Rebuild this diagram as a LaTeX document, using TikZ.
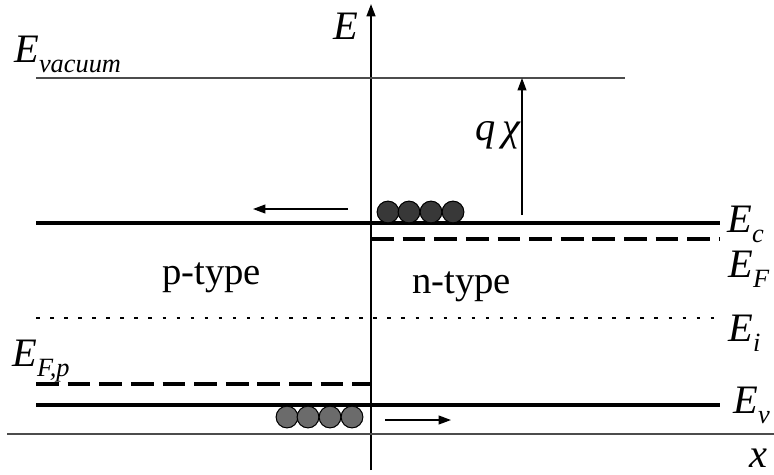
\documentclass[tikz,border=0pt]{standalone}
\usepackage{fontspec}
\setmainfont{Liberation Serif}
\usetikzlibrary{arrows.meta}

\newcommand{\lvsub}[1]{\raisebox{-6pt}{\fontsize{15}{17}\selectfont #1}}

\begin{document}
\begin{tikzpicture}[
  x=0.02cm, y=-0.02cm, >={Triangle[length=7pt,width=5pt]},
  lbl/.style={anchor=base west, inner sep=0pt, font=\fontsize{23}{26}\selectfont\itshape},
  band/.style={line width=1.8pt},
  fermi/.style={line width=1.8pt, dash pattern=on 13pt off 5pt},
  thinline/.style={line width=0.8pt, black!70},
  carrier/.style={circle, draw=black, line width=0.6pt, inner sep=0pt, minimum size=12.4pt},
  elec/.style={carrier, fill=black!78},
  hole/.style={carrier, fill=black!58},
]
\useasboundingbox (0,0) rectangle (774,474);

% axes
\coordinate (ybot) at (371,470);
\coordinate (ytop) at (371,4);
\coordinate (xl) at (7,434);
\coordinate (xr) at (774,434);
\draw[line width=1.1pt,->] (ybot) -- (ytop);
\draw[thinline] (xl) -- (xr);
\node[lbl] (elab) at (333,39) {E};
\node[lbl] (xlab) at (749,467) {x};

% vacuum level
\coordinate (vacl) at (36,78);
\coordinate (vacr) at (625,78);
\draw[thinline] (vacl) -- (vacr);
\node[lbl] (evac) at (14,62) {E\lvsub{vacuum}};

% electron affinity
\coordinate (chib) at (522,215);
\coordinate (chit) at (522,78);
\draw[line width=0.8pt,->] (chib) -- (chit);
\node[lbl] (chi) at (475,140) {q\,χ};

% conduction band
\coordinate (ecl) at (36,223);
\coordinate (ecr) at (720,223);
\draw[band] (ecl) -- (ecr);
\node[lbl] (ec) at (727,232) {E\lvsub{c}};

% fermi level n side
\coordinate (efl) at (371,239);
\coordinate (efr) at (720,239);
\draw[fermi] (efl) -- (efr);
\node[lbl] (ef) at (728,277) {E\lvsub{F}};

% intrinsic level
\coordinate (eil) at (36,318);
\coordinate (eir) at (720,318);
\draw[line width=0.6pt, dash pattern=on 2pt off 6pt] (eil) -- (eir);
\node[lbl] (ei) at (728,341) {E\lvsub{i}};

% fermi level p side
\coordinate (efpl) at (36,384);
\coordinate (efpr) at (371,384);
\draw[fermi] (efpl) -- (efpr);
\node[lbl] (efp) at (12,366) {E\lvsub{F,p}};

% valence band
\coordinate (evl) at (36,405);
\coordinate (evr) at (720,405);
\draw[band] (evl) -- (evr);
\node[lbl] (ev) at (733,413) {E\lvsub{v}};

% region labels
\node[lbl, font=\fontsize{22}{26}\selectfont] (ptype) at (162,284) {p-type};
\node[lbl, font=\fontsize{22}{26}\selectfont] (ntype) at (412,293) {n-type};

% carriers
\foreach \i/\cx in {1/388,2/409,3/431,4/453}
  \node[elec] (e\i) at (\cx,212) {};
\foreach \i/\cx in {1/287,2/308,3/330,4/352}
  \node[hole] (h\i) at (\cx,417) {};

% drift directions
\coordinate (ea) at (348,209);
\coordinate (eb) at (253,209);
\draw[line width=0.8pt,->] (ea) -- (eb);
\coordinate (ha) at (385,420);
\coordinate (hb) at (451,420);
\draw[line width=0.8pt,->] (ha) -- (hb);
\end{tikzpicture}
\end{document}
